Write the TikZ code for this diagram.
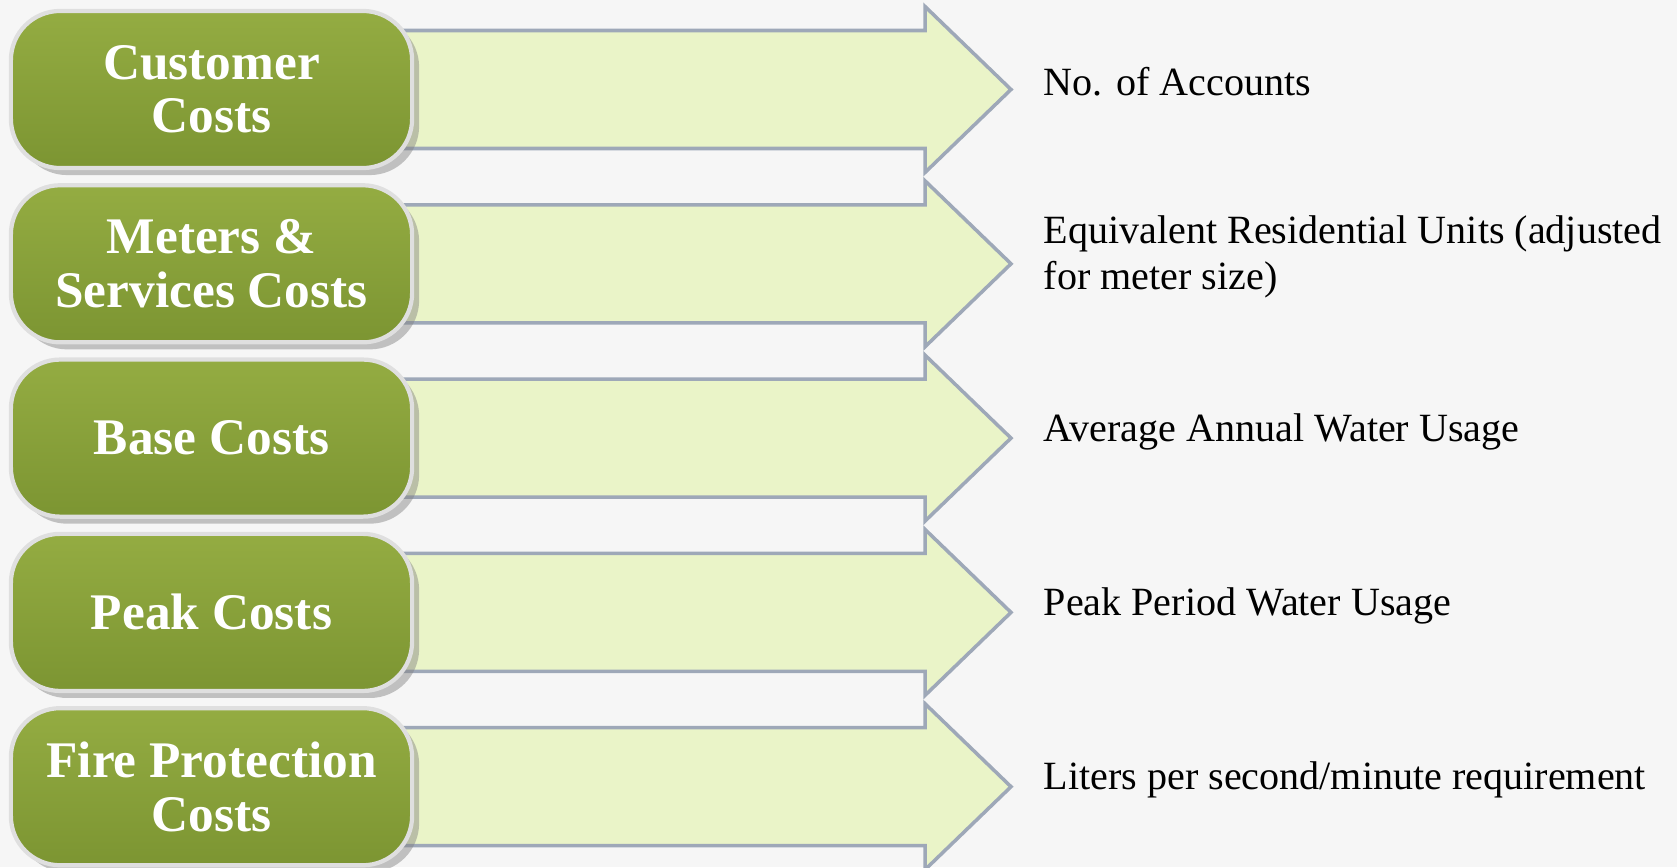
\documentclass[tikz,border=0pt]{standalone}
\usepackage{fontspec}
\setmainfont{Liberation Serif}
\usetikzlibrary{shadows}

\definecolor{costgreentop}{RGB}{148,172,66}
\definecolor{costgreen}{RGB}{136,161,58}
\definecolor{costgreenbot}{RGB}{124,149,50}
\definecolor{arrowfill}{RGB}{234,244,200}
\definecolor{arrowedge}{RGB}{158,168,184}
\definecolor{backgr}{RGB}{246,246,246}

\tikzset{
    costbox/.style={rectangle, rounded corners=14pt, minimum width=4.01cm,
        minimum height=1.57cm, top color=costgreentop, middle color=costgreen,
        bottom color=costgreenbot,
        draw=gray!25, line width=1.2pt, align=center, text=white,
        font=\fontsize{14.6}{15.2}\selectfont\bfseries,
        drop shadow={shadow xshift=2pt, shadow yshift=-2pt, opacity=.45}},
    bigarrow/.style={fill=arrowfill, draw=arrowedge, line width=1pt, line join=miter},
    basis/.style={anchor=west, align=left, inner sep=0pt,
        font=\fontsize{11.4}{13.1}\selectfont}
}

\begin{document}
\begin{tikzpicture}[x=0.01cm, y=-0.01cm]

    \def\rowarrow#1{(400,#1-59) -- (925,#1-59) -- (925,#1-83) -- (1011,#1)
        -- (925,#1+83) -- (925,#1+59) -- (400,#1+59) -- cycle}

    %background:
    \fill[backgr] (0,0) rectangle (1677,867);
    \useasboundingbox (0,0) rectangle (1677,867);

    %arrows:
    \draw[bigarrow] \rowarrow{89.5};
    \draw[bigarrow] \rowarrow{263.8};
    \draw[bigarrow] \rowarrow{438.1};
    \draw[bigarrow] \rowarrow{612.4};
    \draw[bigarrow] \rowarrow{786.7};

    %cost boxes:
    \node[costbox] (customer) at (211.5,89.5) {Customer\\Costs};
    \node[costbox] (meters) at (211.5,263.8) {Meters \&\\Services Costs};
    \node[costbox] (base) at (211.5,438.1) {Base Costs};
    \node[costbox] (peak) at (211.5,612.4) {Peak Costs};
    \node[costbox] (fire) at (211.5,786.7) {Fire Protection\\Costs};

    %allocation basis:
    \node[basis] (accounts) at (1043,82) {No. of Accounts};
    \node[basis] (units) at (1043,257) {Equivalent Residential Units (adjusted\\for meter size)};
    \node[basis] (annual) at (1043,432) {Average Annual Water Usage};
    \node[basis] (period) at (1043,606) {Peak Period Water Usage};
    \node[basis] (liters) at (1043,780) {Liters per second/minute requirement};

\end{tikzpicture}
\end{document}
